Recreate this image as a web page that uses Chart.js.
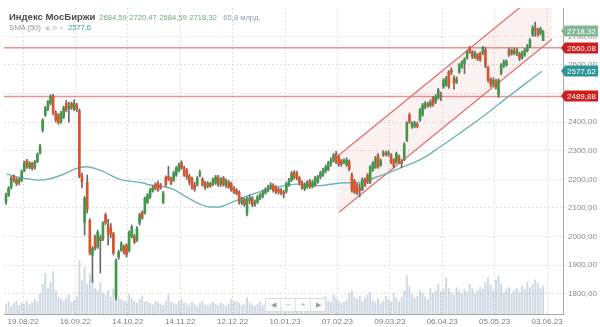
<!DOCTYPE html>
<html>
<head>
<meta charset="utf-8">
<script src="https://cdn.jsdelivr.net/npm/chart.js@4.4.0/dist/chart.umd.min.js"></script>
<style>
  html, body { margin: 0; padding: 0; background: #fff; }
  #wrap { position: relative; width: 600px; height: 327px; font-family: "Liberation Sans", Arial, sans-serif; }
  #chart { position: absolute; left: 0; top: 0; }
  .legend { position: absolute; left: 9px; white-space: nowrap; line-height: 10px; }
  .legend b { font-size: 9.5px; color: #4d4d4d; }
  .num { font-size: 7.6px; color: #6aab7c; margin-left: 4px; word-spacing: 0.5px; }
  .vol { font-size: 7.6px; color: #8d9db0; margin-left: 2px; }
  .sma { font-size: 8px; color: #9a9a9a; letter-spacing: -0.2px; }
  .ico { font-size: 6px; color: #c4c4c4; }
  .smav { font-size: 8px; color: #3fa3a3; letter-spacing: -0.3px; }
  #nav { position: absolute; left: 265px; top: 298px; width: 61px; height: 14px; display: flex;
         border: 1px solid #dcdcdc; border-radius: 2px; background: rgba(255,255,255,0.85); box-sizing: border-box; }
  #nav span { flex: 1; text-align: center; font-size: 7px; line-height: 12px; color: #9a9a9a; border-left: 1px solid #e4e4e4; }
  #nav span:first-child { border-left: none; }
</style>
</head>
<body>
<div id="wrap">
  <canvas id="chart" width="600" height="327"></canvas>
  <div class="legend" style="top:10px"><b>Индекс МосБиржи</b><span class="num">2684,59 2720,47 2684,59 2718,32</span> <span class="vol">65,8 млрд.</span></div>
  <div class="legend" style="top:20px"><span class="sma">SMA (50)</span> <span class="ico">◉ ⚙ ✕</span> <span class="smav">2577,6</span></div>
  <div id="nav"><span>◀</span><span>−</span><span>+</span><span>▶</span></div>
</div>
<script>
// Daily candles, Aug 2022 - Jun 2023 (index = trading day)
const opens = [
  2120,2145,2172,2211,2200,2188,2197,2230,2265,2242,
  2256,2240,2262,2292,2372,2425,2445,2466,2491,2432,
  2425,2400,2418,2466,2448,2465,2446,2460,2440,2212,
  2050,2190,2057,1935,1998,1963,1995,1990,2075,2040,
  2030,2010,1790,1928,1952,1965,1970,1952,2000,2000,
  1987,2047,2085,2082,2120,2138,2160,2183,2185,2180,
  2120,2207,2210,2204,2197,2215,2230,2258,2240,2232,
  2210,2204,2180,2180,2215,2200,2187,2176,2185,2183,
  2187,2208,2185,2204,2180,2190,2185,2168,2162,2155,
  2117,2130,2080,2125,2134,2112,2120,2135,2140,2152,
  2160,2172,2180,2172,2165,2160,2155,2158,2180,2197,
  2225,2222,2205,2190,2167,2175,2195,2175,2180,2190,
  2208,2215,2228,2235,2255,2265,2290,2280,2265,2260,
  2250,2262,2215,2195,2180,2170,2165,2197,2215,2190,
  2232,2242,2285,2250,2285,2292,2288,2285,2268,2260,
  2280,2262,2270,2337,2425,2382,2386,2393,2407,2425,
  2452,2463,2458,2484,2470,2484,2494,2523,2530,2575,
  2582,2555,2540,2575,2592,2605,2624,2660,2645,2630,
  2635,2640,2642,2652,2590,2550,2535,2545,2495,2570,
  2598,2600,2652,2640,2650,2640,2640,2625,2635,2650,
  2665,2705,2730,2722,2710,2684.59
];
const highs = [
  2152,2175,2210,2216,2206,2205,2233,2264,2270,2262,
  2260,2266,2292,2322,2412,2455,2476,2496,2497,2440,
  2430,2438,2456,2476,2470,2470,2478,2466,2446,2222,
  2140,2215,2062,1965,2005,2022,2005,2052,2082,2060,
  2045,2015,1922,1952,1982,1970,1975,2020,2040,2008,
  2035,2082,2090,2138,2150,2168,2178,2188,2195,2186,
  2158,2212,2245,2208,2228,2245,2258,2265,2246,2238,
  2218,2208,2190,2210,2232,2206,2193,2192,2190,2205,
  2214,2214,2206,2210,2202,2196,2190,2175,2168,2160,
  2138,2135,2138,2145,2140,2128,2145,2152,2163,2170,
  2180,2188,2185,2178,2170,2168,2162,2190,2203,2228,
  2230,2228,2210,2195,2188,2196,2200,2196,2210,2214,
  2228,2238,2250,2263,2275,2290,2298,2285,2270,2272,
  2275,2268,2222,2200,2186,2185,2205,2205,2220,2248,
  2262,2280,2290,2272,2300,2298,2300,2290,2272,2295,
  2285,2270,2328,2402,2432,2402,2403,2400,2448,2466,
  2472,2470,2478,2490,2496,2518,2505,2552,2560,2580,
  2590,2562,2558,2605,2615,2625,2650,2665,2650,2648,
  2640,2645,2665,2662,2595,2555,2555,2550,2552,2605,
  2618,2618,2660,2656,2660,2658,2645,2648,2658,2672,
  2692,2738,2750,2728,2732,2720.47
];
const lows = [
  2112,2140,2166,2190,2178,2180,2192,2226,2238,2236,
  2232,2235,2258,2288,2365,2420,2440,2460,2425,2400,
  2392,2395,2412,2436,2400,2444,2440,2436,2205,2170,
  2005,2082,1936,1840,1952,1958,1872,1985,2042,1970,
  1995,1935,1778,1920,1948,1938,1928,1945,1995,1975,
  1982,2040,2060,2078,2115,2132,2155,2163,2158,2165,
  2115,2175,2195,2180,2192,2210,2226,2235,2210,2200,
  2180,2165,2158,2176,2208,2176,2165,2170,2172,2178,
  2182,2175,2175,2176,2170,2168,2158,2150,2145,2113,
  2110,2105,2072,2115,2105,2105,2115,2128,2135,2148,
  2155,2165,2155,2150,2148,2145,2135,2152,2175,2192,
  2200,2198,2180,2165,2160,2168,2168,2170,2175,2186,
  2202,2210,2222,2230,2245,2260,2255,2245,2246,2255,
  2245,2230,2155,2150,2145,2138,2160,2175,2185,2185,
  2228,2238,2238,2245,2280,2282,2280,2255,2240,2255,
  2255,2240,2265,2332,2395,2378,2380,2380,2402,2420,
  2446,2452,2452,2455,2465,2480,2475,2518,2526,2518,
  2565,2515,2535,2570,2588,2570,2620,2640,2622,2622,
  2615,2612,2636,2590,2540,2522,2525,2515,2486,2565,
  2590,2595,2630,2634,2635,2632,2615,2620,2630,2645,
  2660,2700,2700,2700,2705,2684.59
];
const closes = [
  2145,2169,2204,2197,2185,2200,2228,2260,2243,2256,
  2238,2260,2287,2316,2407,2449,2470,2491,2432,2407,
  2398,2432,2450,2442,2456,2450,2466,2445,2210,2190,
  2134,2095,1942,1959,1960,2015,1985,2047,2047,2005,
  2010,1942,1915,1945,1975,1945,1935,2015,2033,1980,
  2028,2075,2065,2134,2145,2162,2172,2169,2162,2170,
  2152,2180,2200,2186,2222,2240,2250,2240,2215,2207,
  2190,2172,2165,2204,2222,2180,2170,2186,2176,2200,
  2208,2180,2200,2180,2195,2173,2162,2155,2150,2120,
  2128,2113,2130,2135,2110,2120,2138,2145,2155,2162,
  2172,2180,2160,2155,2155,2152,2148,2185,2197,2220,
  2205,2205,2187,2170,2180,2190,2172,2190,2205,2208,
  2222,2232,2243,2257,2265,2285,2260,2252,2252,2265,
  2267,2235,2162,2155,2152,2160,2200,2180,2190,2242,
  2257,2274,2242,2265,2293,2287,2294,2260,2245,2290,
  2260,2255,2322,2396,2400,2396,2397,2385,2442,2460,
  2465,2458,2470,2460,2490,2512,2490,2547,2554,2523,
  2575,2535,2550,2600,2610,2620,2645,2645,2628,2640,
  2622,2618,2660,2595,2547,2530,2545,2522,2545,2600,
  2610,2612,2635,2650,2640,2652,2622,2640,2652,2665,
  2687,2730,2722,2705,2727,2718.32
];
// turnover, bn RUB
const volumes = [
  22,28,18,25,30,20,26,24,31,22,27,35,30,48,
  70,95,60,75,100,55,40,35,30,38,45,28,32,40,
  125,80,110,70,95,85,60,55,75,50,45,55,40,60,
  90,
  40,35,30,28,45,38,30,25,35,42,28,30,25,22,30,27,24,20,
  30,45,28,25,22,30,35,26,24,20,28,22,18,25,30,21,19,24,27,23,
  20,26,22,18,24,35,28,30,25,20,22,38,26,21,19,23,28,20,24,26,
  22,18,25,30,27,21,24,35,28,22,26,30,19,23,27,33,25,22,30,28,
  35,40,30,28,45,38,30,25,28,32,48,55,40,35,42,30,38,45,50,32,28,36,25,30,42,35,28,48,38,30,
  40,55,90,65,45,38,42,55,50,40,35,60,48,55,70,52,58,85,60,50,45,62,55,48,58,
  52,70,60,48,55,62,58,75,85,68,55,80,90,70,50,58,62,48,55,60,52,66,58,75,62,70,80,72,60,65.8
];
// SMA(50): [day index, value]
const smaPoints = [
  [0.3,2218],[6.6,2204],[13,2197],[16.8,2202],[21.3,2215],[27,2238],[30.5,2244],[35.9,2232],
  [43.5,2200],[52.3,2187],[55,2180],[58.8,2176],[63.7,2166],[68.3,2141],[74,2113],[77.9,2103],
  [80.9,2103],[85.5,2117],[89.3,2131],[93.1,2145],[101.9,2169],[111.1,2183],[119.8,2178],
  [127.5,2187],[135.1,2190],[141.6,2208],[150.4,2239],[159.2,2274],[165.6,2313],[173.3,2362],
  [181.7,2417],[192,2491],[198,2533],[204.6,2578]
];
const tickPos = [6.5, 26.5, 46.5, 66.5, 86.5, 106.5, 126.5, 146.5, 166.5, 186.5, 206.5];
const tickLabels = ['19.08.22','16.09.22','14.10.22','14.11.22','12.12.22','10.01.23','07.02.23','09.03.23','06.04.23','05.05.23','03.06.23'];
const supportLevels = [2660.08, 2489.88];
const channelX = [127.1, 208.4];
const channelUpper = [2285, 2892];
const channelLower = [2085, 2690];
const levelValues = [2718.32, 2660.08, 2577.62, 2489.88];
const levelColors = ['#82b896', '#cf1d1d', '#2f9696', '#cf1d1d'];

const X_MIN = -0.76, X_MAX = 212.6;
const fmt = v => v.toFixed(2).replace('.', ',');

// price tags on the right axis
const levelBoxes = {
  id: 'levelBoxes',
  afterDraw(chart) {
    const ctx = chart.ctx;
    const y = chart.scales.y;
    const left = chart.chartArea.right - 2;
    levelValues.forEach((v, k) => {
      const cy = Math.round(y.getPixelForValue(v));
      ctx.save();
      ctx.fillStyle = levelColors[k];
      ctx.beginPath();
      ctx.moveTo(left, cy);
      ctx.lineTo(left + 4, cy - 5.5);
      ctx.lineTo(598, cy - 5.5);
      ctx.lineTo(598, cy + 5.5);
      ctx.lineTo(left + 4, cy + 5.5);
      ctx.closePath();
      ctx.fill();
      ctx.fillStyle = '#fff';
      ctx.font = '8px "Liberation Sans", Arial, sans-serif';
      ctx.textBaseline = 'middle';
      ctx.fillText(fmt(v), left + 6, cy + 0.5);
      ctx.restore();
    });
  }
};

const idx = opens.map((_, i) => i);
const up = idx.map(i => closes[i] >= opens[i]);

new Chart(document.getElementById('chart'), {
  type: 'bar',
  data: {
    datasets: [
      {
        label: 'volume', yAxisID: 'yv', order: 20, grouped: false,
        data: idx.map(i => ({ x: i, y: volumes[i] })),
        backgroundColor: 'rgba(128,152,182,0.38)', barThickness: 1.3
      },
      {
        type: 'line', label: 'channel top', order: 15,
        data: channelX.map((x, k) => ({ x: x, y: channelUpper[k] })),
        borderColor: 'rgba(222,80,80,0.85)', borderWidth: 1.2, pointRadius: 0,
        fill: { target: 2 }, backgroundColor: 'rgba(232,150,150,0.13)'
      },
      {
        type: 'line', label: 'channel bottom', order: 15,
        data: channelX.map((x, k) => ({ x: x, y: channelLower[k] })),
        borderColor: 'rgba(222,80,80,0.85)', borderWidth: 1.2, pointRadius: 0, fill: false
      },
      ...supportLevels.map(v => ({
        type: 'line', label: 'level', order: 12,
        data: [{ x: X_MIN, y: v }, { x: X_MAX, y: v }],
        borderColor: 'rgba(225,100,100,0.7)', borderWidth: 1.5, pointRadius: 0, fill: false
      })),
      {
        type: 'line', label: 'SMA (50)', order: 8,
        data: smaPoints.map(p => ({ x: p[0], y: p[1] })),
        borderColor: '#6db5b5', borderWidth: 1.4, pointRadius: 0, fill: false,
        cubicInterpolationMode: 'monotone'
      },
      {
        label: 'wick', order: 5, grouped: false,
        data: idx.map(i => ({ x: i, y: [lows[i], highs[i]] })),
        backgroundColor: '#6a6a6a', barThickness: 1, borderSkipped: false
      },
      {
        label: 'body', order: 4, grouped: false,
        data: idx.map(i => ({ x: i, y: [opens[i], closes[i]] })),
        backgroundColor: idx.map(i => up[i] ? '#3d9a48' : '#d5562d'),
        barThickness: 2, borderSkipped: false
      }
    ]
  },
  options: {
    responsive: false,
    devicePixelRatio: 1,
    animation: false,
    layout: { padding: { top: 8, left: 4, right: 0, bottom: 0 } },
    plugins: { legend: { display: false }, tooltip: { enabled: false } },
    scales: {
      x: {
        type: 'linear', min: X_MIN, max: X_MAX, offset: false,
        afterBuildTicks: s => { s.ticks = tickPos.map(v => ({ value: v })); },
        afterFit: s => { s.height = 13; },
        ticks: {
          autoSkip: false, maxRotation: 0, padding: 1,
          color: '#7d7d7d', font: { size: 8, family: '"Liberation Sans", Arial, sans-serif' },
          callback: (v, i) => tickLabels[i]
        },
        grid: { color: '#e0e0e0', tickLength: 2, offset: false },
        border: { display: true, color: '#a8a8a8', dash: [2, 2] }
      },
      y: {
        position: 'right', min: 1729, max: 2799,
        afterFit: s => { s.width = 37; },
        ticks: {
          stepSize: 100, includeBounds: false, padding: 2,
          color: '#8a8a8a', font: { size: 8, family: '"Liberation Sans", Arial, sans-serif' },
          callback: v => fmt(v)
        },
        grid: { color: '#e0e0e0', tickLength: 3 },
        border: { display: true, color: '#a8a8a8', dash: [2, 2] }
      },
      yv: { display: false, min: 0, max: 720 }
    }
  },
  plugins: [levelBoxes]
});
</script>
</body>
</html>
